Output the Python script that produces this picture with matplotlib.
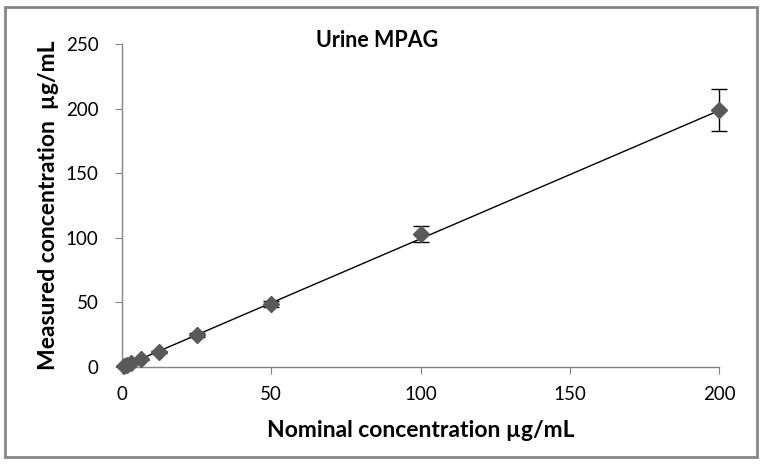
import matplotlib
matplotlib.use("Agg")
import matplotlib.pyplot as plt
from matplotlib.patches import Rectangle

plt.rcParams['font.family'] = ['Lato', 'DejaVu Sans']

nominal = [0.78, 1.56, 3.125, 6.25, 12.5, 25, 50, 100, 200]
measured = [0.6, 1.5, 3.0, 5.8, 11.6, 24.8, 48.8, 103.0, 199.0]
errors = [0.2, 0.2, 0.3, 0.5, 1.0, 1.5, 2.5, 6.5, 16.0]
fit_x = [0, 200]
fit_y = [0, 198.5]
x_ticks = [0, 50, 100, 150, 200]
y_ticks = [0, 50, 100, 150, 200, 250]

fig = plt.figure(figsize=(7.65, 4.65), dpi=100)
ax = fig.add_axes([0.1595, 0.2108, 0.7805, 0.6946])

ax.plot(fit_x, fit_y, color='black', lw=1.0, zorder=2)
eb = ax.errorbar(nominal, measured, yerr=errors, fmt='D', color='#595959',
                 ms=8.5, mec='#595959', ecolor='black', elinewidth=1.0,
                 capsize=6, capthick=1.0, zorder=3)
eb.lines[0].set_clip_on(False)
for art in eb.lines[1]:
    art.set_clip_on(False)
for art in eb.lines[2]:
    art.set_clip_on(False)

ax.set_xlim(0, 200)
ax.set_ylim(0, 250)
ax.set_xticks(x_ticks)
ax.set_yticks(y_ticks)
for s in ['top', 'right']:
    ax.spines[s].set_visible(False)
for s in ['left', 'bottom']:
    ax.spines[s].set_color('#868686')
    ax.spines[s].set_linewidth(1.0)
ax.tick_params(axis='both', direction='out', length=5, color='#868686',
               labelsize=13.5)
ax.tick_params(axis='x', pad=9)
ax.tick_params(axis='y', pad=12)
ax.set_xlabel('Nominal concentration µg/mL', fontsize=16.5, fontweight='bold', labelpad=12)
ax.set_ylabel('Measured concentration  µg/mL', fontsize=16.5, fontweight='bold', labelpad=5)
fig.text(0.493, 0.912, 'Urine MPAG', ha='center', va='center', fontsize=15.5, fontweight='bold')

fig.patches.append(Rectangle((0.007, 0.017), 0.983, 0.968, transform=fig.transFigure,
                             fill=False, edgecolor='#868686', lw=2.0))
fig.savefig('out.png', dpi=100)
